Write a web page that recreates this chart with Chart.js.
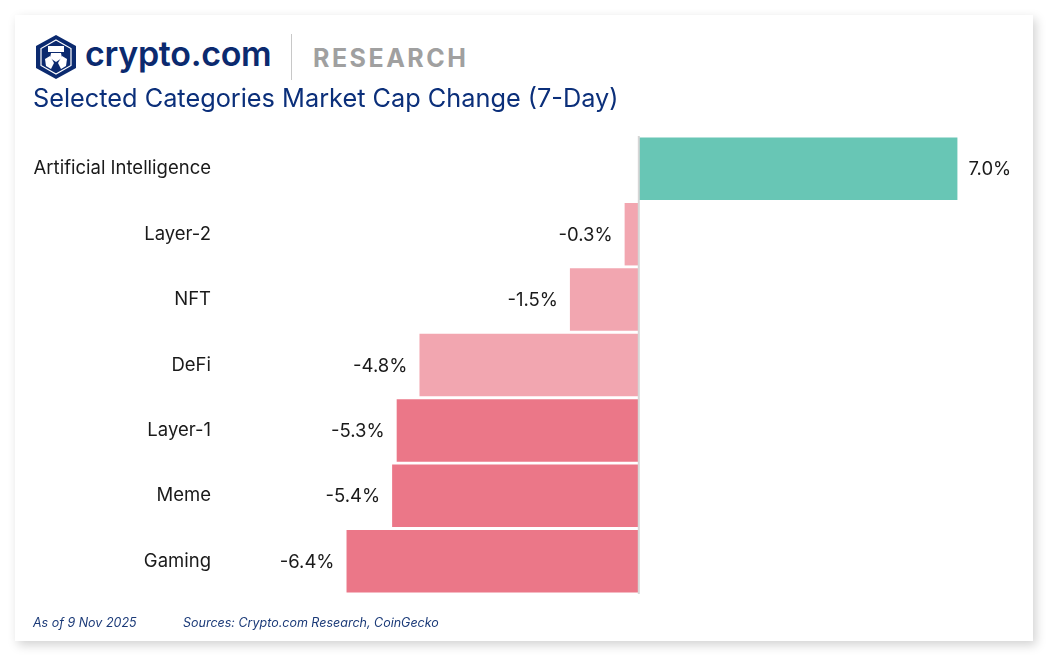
<!DOCTYPE html>
<html>
<head>
<meta charset="utf-8">
<script src="https://cdn.jsdelivr.net/npm/chart.js@4.4.1/dist/chart.umd.min.js"></script>
<style>
  body { margin: 0; background: #fff; width: 1057px; height: 669px; overflow: hidden; font-family: Inter, "Noto Sans", sans-serif; }
  #card { position: absolute; left: 15px; top: 15px; width: 1018px; height: 626px; background: #fff;
          box-shadow: 3px 4px 10px rgba(0,0,0,0.18); }
  #logo { position: absolute; left: 35px; top: 35px; }
  #brand { position: absolute; left: 85px; top: 33px; font-size: 34px; font-weight: 600; color: #0b2a6f; letter-spacing: -0.3px; }
  #sep { position: absolute; left: 291px; top: 34px; width: 1px; height: 46px; background: #c8c8c8; }
  #research { position: absolute; left: 313px; top: 43px; font-size: 25px; font-weight: 700; color: #a0a0a0; letter-spacing: 2.5px; }
  #title { position: absolute; left: 33px; top: 82px; font-size: 25.3px; color: #0b2f7a; }
  #foot1, #foot2 { position: absolute; top: 615px; font-size: 12.5px; font-style: italic; color: #1b3a78; }
  #foot1 { left: 33px; }
  #foot2 { left: 183px; }
  #wrap { position: absolute; left: 15px; top: 108px; width: 1018px; height: 514px; }
</style>
</head>
<body>
<div id="card"></div>
<div id="wrap"><canvas id="bars" width="1018" height="514"></canvas></div>
<svg id="logo" width="42" height="44" viewBox="0 0 42 44">
  <polygon points="21,0 41,11 41,33 21,44 1,33 1,11" fill="#0b2a6f"/>
  <polygon points="21,5 36,13.5 36,30.5 21,39 6,30.5 6,13.5" fill="none" stroke="#ffffff" stroke-width="1.2"/>
  <rect x="13" y="11" width="16" height="6" fill="#ffffff"/>
  <path d="M16 18 L26 18 L27 23 L21 27 L15 23 Z" fill="#ffffff"/>
  <path d="M10 24 L15 21 L19 28 L16 34 L11 31 Z" fill="#ffffff"/>
  <path d="M32 24 L27 21 L23 28 L26 34 L31 31 Z" fill="#ffffff"/>
</svg>
<div id="brand">crypto.com</div>
<div id="sep"></div>
<div id="research">RESEARCH</div>
<div id="title">Selected Categories Market Cap Change (7-Day)</div>
<div id="foot1">As of 9 Nov 2025</div>
<div id="foot2">Sources: Crypto.com Research, CoinGecko</div>
<script>
const categories = ['Artificial Intelligence', 'Layer-2', 'NFT', 'DeFi', 'Layer-1', 'Meme', 'Gaming'];
const changes = [7.0, -0.3, -1.5, -4.8, -5.3, -5.4, -6.4];
const barColors = ['#68c6b5', '#f2a6b0', '#f2a6b0', '#f2a6b0', '#eb7788', '#eb7788', '#eb7788'];

const valueLabels = {
  id: 'valueLabels',
  afterDatasetsDraw(chart) {
    const ctx = chart.ctx;
    const meta = chart.getDatasetMeta(0);
    ctx.save();
    ctx.font = '18.5px Inter, sans-serif';
    ctx.fillStyle = '#1a1a1a';
    ctx.textBaseline = 'middle';
    meta.data.forEach((bar, i) => {
      const v = changes[i];
      const txt = v.toFixed(1) + '%';
      if (v >= 0) {
        ctx.textAlign = 'left';
        ctx.fillText(txt, bar.x + 11, bar.y + 1);
      } else {
        ctx.textAlign = 'right';
        ctx.fillText(txt, bar.x - 12, bar.y + 1);
      }
    });
    ctx.restore();
  }
};

const zeroLine = {
  id: 'zeroLine',
  afterDatasetsDraw(chart) {
    const ctx = chart.ctx;
    const x = chart.scales.x.getPixelForValue(0);
    ctx.save();
    ctx.strokeStyle = '#d6d6d6';
    ctx.lineWidth = 2;
    ctx.beginPath();
    ctx.moveTo(x + 0.5, chart.chartArea.top);
    ctx.lineTo(x + 0.5, chart.chartArea.bottom);
    ctx.stroke();
    ctx.restore();
  }
};

new Chart(document.getElementById('bars'), {
  type: 'bar',
  data: {
    labels: categories,
    datasets: [{
      data: changes,
      backgroundColor: barColors,
      borderWidth: 0,
      barPercentage: 1,
      categoryPercentage: 0.955
    }]
  },
  options: {
    indexAxis: 'y',
    responsive: false,
    animation: false,
    layout: { padding: { top: 10, bottom: 7, right: 30, left: 0 } },
    plugins: { legend: { display: false }, tooltip: { enabled: false }, title: { display: false } },
    scales: {
      x: { display: false, min: -9, max: 8 },
      y: {
        grid: { display: false, drawTicks: false },
        border: { display: false },
        ticks: { color: '#1a1a1a', font: { family: 'Inter', size: 18.5 }, padding: 17 },
        afterFit(scale) { scale.width = 213; }
      }
    }
  },
  plugins: [valueLabels, zeroLine]
});
</script>
</body>
</html>
